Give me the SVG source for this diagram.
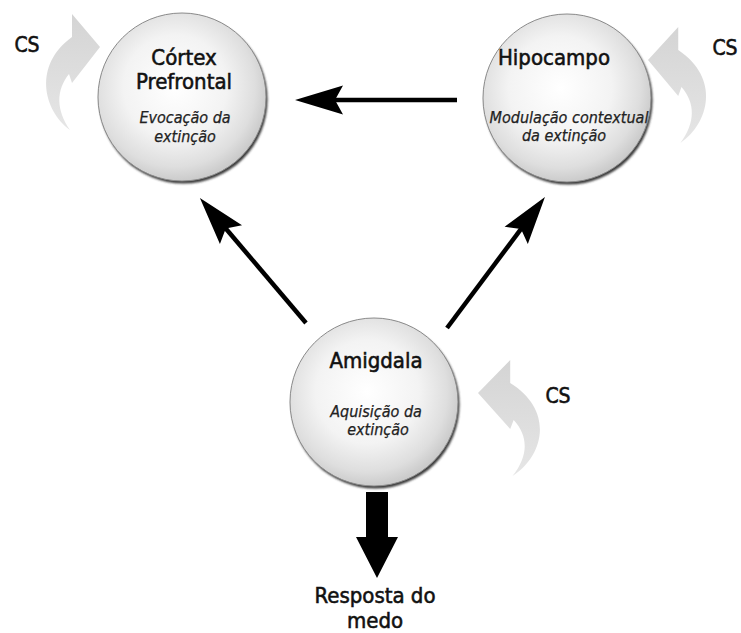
<svg xmlns="http://www.w3.org/2000/svg" width="741" height="633" viewBox="0 0 741 633">
  <style>
    text { font-family: "DejaVu Sans Condensed", "DejaVu Sans", sans-serif; font-stretch: condensed; fill: #111; text-anchor: middle; }
    .title { font-size: 22px; stroke: #111; stroke-width: 0.55; }
    .sub { font-size: 16px; font-style: italic; fill: #222; stroke: #222; stroke-width: 0.25; }
    .cs { font-size: 21px; stroke: #111; stroke-width: 0.55; }
    .conn { stroke: #000; stroke-width: 4.5; fill: none; marker-end: url(#head); }
    .rim { fill: #3a3a3a; filter: url(#soft); }
    .ball { fill: url(#sphere); stroke: #8a8a8a; stroke-width: 1; }
    .csarrow { fill: url(#grayfill); }
  </style>
  <defs>
    <radialGradient id="sphere" cx="46%" cy="44%" r="56%">
      <stop offset="0" stop-color="#ffffff"/>
      <stop offset="0.55" stop-color="#f3f3f3"/>
      <stop offset="0.85" stop-color="#dedede"/>
      <stop offset="1" stop-color="#cbcbcb"/>
    </radialGradient>
    <linearGradient id="grayfill" x1="0" y1="0" x2="0" y2="1">
      <stop offset="0" stop-color="#d4d4d4"/>
      <stop offset="1" stop-color="#e6e6e6"/>
    </linearGradient>
    <filter id="soft" x="-10%" y="-10%" width="120%" height="120%">
      <feGaussianBlur stdDeviation="0.9"/>
    </filter>
    <marker id="head" markerUnits="userSpaceOnUse" viewBox="-50 -16 52 32" markerWidth="52" markerHeight="32" refX="-38" refY="0" orient="auto">
      <path d="M 0 0 L -48 -14.5 L -40 0 L -48 14.5 Z" fill="#000"/>
    </marker>
    <path id="curl" d="M -30 83 C -57 63 -67 18 -28 -10 L -28 -33 L 0 0 L -28 36 L -31 27 C -44 43 -44 63 -30 83 Z"/>
  </defs>

  <g id="connectors">
    <path class="conn" d="M 457 100 L 333 100"/>
    <path class="conn" d="M 306 323 L 224.5 227"/>
    <path class="conn" d="M 447 328 L 522.2 227.4"/>
    <path d="M 366 492 L 388 492 L 388 537 L 398 537 L 377 578 L 356 537 L 366 537 Z" fill="#000"/>
  </g>

  <g id="cs-inputs">
    <use href="#curl" class="csarrow" transform="translate(100,47)"/>
    <use href="#curl" class="csarrow" transform="translate(648,60) scale(-1.08,1)"/>
    <use href="#curl" class="csarrow" transform="translate(478,393) scale(-1.15,1)"/>
    <text class="cs" x="27" y="52">CS</text>
    <text class="cs" x="725" y="55">CS</text>
    <text class="cs" x="558" y="403">CS</text>
  </g>

  <g id="cortex">
    <circle class="rim" cx="183.5" cy="99.5" r="84"/>
    <circle class="ball" cx="182" cy="97" r="84"/>
    <text class="title" x="184" y="65">Córtex</text>
    <text class="title" x="184" y="89">Prefrontal</text>
    <text class="sub" x="185" y="123">Evocação da</text>
    <text class="sub" x="185" y="142">extinção</text>
  </g>

  <g id="hipocampo">
    <circle class="rim" cx="568.5" cy="100.5" r="84"/>
    <circle class="ball" cx="567" cy="98" r="84"/>
    <text class="title" x="554" y="65">Hipocampo</text>
    <text class="sub" x="569" y="123">Modulação contextual</text>
    <text class="sub" x="564" y="141">da extinção</text>
  </g>

  <g id="amigdala">
    <circle class="rim" cx="375.5" cy="404.5" r="84"/>
    <circle class="ball" cx="374" cy="402" r="84"/>
    <text class="title" x="376" y="368">Amigdala</text>
    <text class="sub" x="376" y="417">Aquisição da</text>
    <text class="sub" x="378" y="435">extinção</text>
  </g>

  <g id="resposta">
    <text class="title" x="375" y="603">Resposta do</text>
    <text class="title" x="375" y="628">medo</text>
  </g>
</svg>
